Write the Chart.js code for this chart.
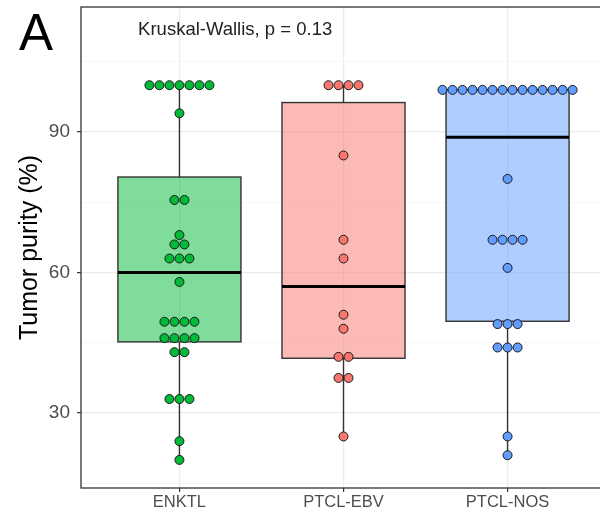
<!DOCTYPE html>
<html>
<head>
<meta charset="utf-8">
<title>Tumor purity</title>
<script src="https://cdn.jsdelivr.net/npm/chart.js@4.4.1/dist/chart.umd.min.js"></script>
<style>
  html, body { margin: 0; padding: 0; background: #fff; overflow: hidden; }
  #wrap { position: relative; width: 600px; height: 521px; overflow: hidden; }
  #chart { position: absolute; left: 0; top: 0; }
</style>
</head>
<body>
<div id="wrap"><canvas id="chart" width="612" height="521"></canvas></div>
<script>
// values
const groups = ['ENKTL', 'PTCL-EBV', 'PTCL-NOS'];
const enktlPurity = [100, 100, 100, 100, 100, 100, 100, 94, 75.5, 75.5, 68, 66, 66, 63, 63, 63, 58,
  49.5, 49.5, 49.5, 49.5, 46, 46, 46, 46, 43, 43, 33, 33, 33, 24, 20];
const ebvPurity = [100, 100, 100, 100, 85, 67, 63, 51, 48, 42, 42, 37.5, 37.5, 25];
const nosPurity = [99, 99, 99, 99, 99, 99, 99, 99, 99, 99, 99, 99, 99, 99, 80, 67, 67, 67, 67, 61,
  49, 49, 49, 44, 44, 44, 25, 21];
const boxQ1 = [45.2, 41.7, 49.6];
const boxMedian = [60, 57, 88.9];
const boxQ3 = [80.4, 96.3, 99];
const whiskerLow = [20, 25, 21];
const whiskerHigh = [100, 100, 99];
const yTicks = [30, 60, 90];
const yMinorTicks = [15, 45, 75, 105];
const testLabel = 'Kruskal-Wallis, p = 0.13';

const fillColors = ['#00BA38', '#F8766D', '#619CFF'];
const boxFills = ['rgba(0,186,56,0.5)', 'rgba(248,118,109,0.5)', 'rgba(97,156,255,0.5)'];
const dotStep = 0.061; // one dot width in x units
const boxHalf = 0.375;

Chart.defaults.font.family = "'Liberation Sans', Arial, sans-serif";

// dotplot: equal values stack sideways, centred on the group
function dotPoints(values, pos) {
  const counts = {};
  values.forEach((v) => { counts[v] = (counts[v] || 0) + 1; });
  const seen = {};
  return values.map((v) => {
    const j = seen[v] || 0;
    seen[v] = j + 1;
    return { x: pos + (j - (counts[v] - 1) / 2) * dotStep, y: v };
  });
}

const allPurity = [enktlPurity, ebvPurity, nosPurity];
const datasets = allPurity.map((vals, i) => ({
  label: groups[i],
  data: dotPoints(vals, i + 1),
  backgroundColor: fillColors[i],
  borderColor: '#1a1a1a',
  borderWidth: 1,
  pointRadius: 4.5,
  pointHoverRadius: 4.5
}));

const boxPlugin = {
  id: 'boxes',
  beforeDatasetsDraw(chart) {
    const { ctx, scales: { x, y } } = chart;
    ctx.save();
    groups.forEach((g, i) => {
      const xc = x.getPixelForValue(i + 1);
      const l = x.getPixelForValue(i + 1 - boxHalf);
      const r = x.getPixelForValue(i + 1 + boxHalf);
      const top = y.getPixelForValue(boxQ3[i]);
      const bot = y.getPixelForValue(boxQ1[i]);
      ctx.strokeStyle = '#333';
      ctx.lineWidth = 1.4;
      // whiskers
      ctx.beginPath();
      ctx.moveTo(xc, top);
      ctx.lineTo(xc, y.getPixelForValue(whiskerHigh[i]));
      ctx.moveTo(xc, bot);
      ctx.lineTo(xc, y.getPixelForValue(whiskerLow[i]));
      ctx.stroke();
      ctx.fillStyle = boxFills[i];
      ctx.fillRect(l, top, r - l, bot - top);
      ctx.strokeRect(l, top, r - l, bot - top);
      // median
      ctx.strokeStyle = '#000';
      ctx.lineWidth = 3;
      ctx.beginPath();
      const m = y.getPixelForValue(boxMedian[i]);
      ctx.moveTo(l, m);
      ctx.lineTo(r, m);
      ctx.stroke();
    });
    ctx.restore();
  },
  afterDraw(chart) {
    const { ctx, chartArea: a, scales: { x, y } } = chart;
    ctx.save();
    ctx.strokeStyle = '#333';
    ctx.lineWidth = 1.3;
    ctx.strokeRect(a.left, a.top, a.right - a.left, a.bottom - a.top);
    ctx.fillStyle = '#222';
    ctx.font = "18.5px 'Liberation Sans', Arial, sans-serif";
    ctx.textBaseline = 'middle';
    ctx.textAlign = 'left';
    ctx.fillText(testLabel, x.getPixelForValue(0.748), y.getPixelForValue(111.8));
    ctx.fillStyle = '#000';
    ctx.font = "51px 'Liberation Sans', Arial, sans-serif";
    ctx.textBaseline = 'alphabetic';
    ctx.fillText('A', 19, 50);
    ctx.restore();
  }
};

const chart = new Chart(document.getElementById('chart'), {
  type: 'scatter',
  data: { datasets },
  options: {
    responsive: false,
    animation: false,
    events: [],
    layout: { padding: { top: 7, right: 6, left: 0, bottom: 0 } },
    plugins: { legend: { display: false }, tooltip: { enabled: false } },
    scales: {
      x: {
        type: 'linear',
        min: 0.4,
        max: 3.6,
        afterBuildTicks: (axis) => { axis.ticks = groups.map((g, i) => ({ value: i + 1 })); },
        afterFit: (axis) => { axis.height = 33; axis.paddingLeft = 0; axis.paddingRight = 0; },
        border: { display: false },
        grid: { color: '#ebebeb', lineWidth: 1.2, tickColor: '#333', tickLength: 4 },
        ticks: {
          padding: 1,
          color: '#4d4d4d',
          font: { size: 16.5 },
          maxRotation: 0,
          callback: (v) => groups[v - 1]
        }
      },
      y: {
        min: 14,
        max: 116.7,
        afterBuildTicks: (axis) => {
          axis.ticks = yTicks.concat(yMinorTicks).sort((a, b) => a - b).map((v) => ({ value: v }));
        },
        afterFit: (axis) => { axis.width = 81; axis.paddingTop = 0; axis.paddingBottom = 0; },
        border: { display: false },
        grid: {
          color: (c) => (yTicks.includes(c.tick.value) ? '#ebebeb' : '#f4f4f4'),
          lineWidth: (c) => (yTicks.includes(c.tick.value) ? 1.2 : 0.7),
          tickColor: (c) => (yTicks.includes(c.tick.value) ? '#333' : 'rgba(0,0,0,0)'),
          tickLength: 4
        },
        ticks: {
          padding: 7,
          color: '#4d4d4d',
          font: { size: 19 },
          callback: (v) => (yTicks.includes(v) ? String(v) : '')
        },
        title: {
          display: true,
          text: 'Tumor purity (%)',
          color: '#000',
          font: { size: 25 },
          padding: { top: 15, bottom: 0 }
        }
      }
    }
  },
  plugins: [boxPlugin]
});
</script>
</body>
</html>
